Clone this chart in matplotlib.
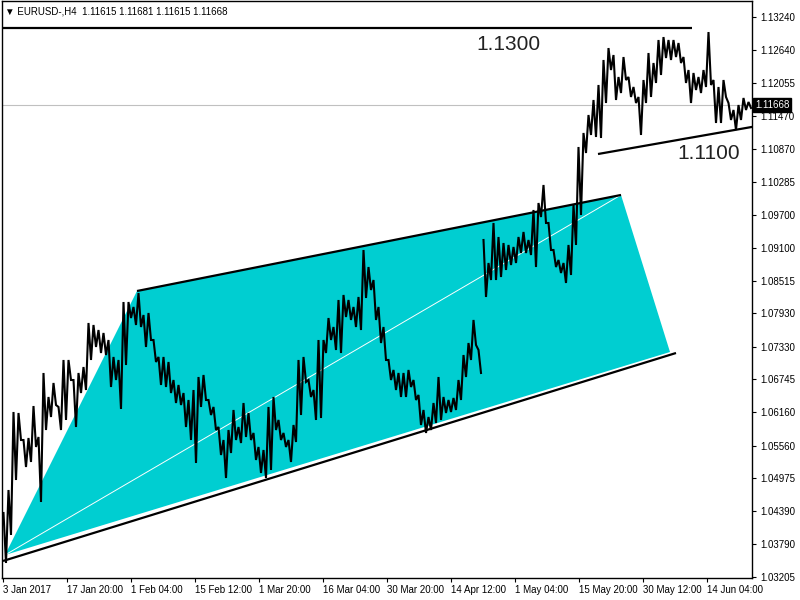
import matplotlib
matplotlib.use("Agg")
import matplotlib.pyplot as plt
import matplotlib.transforms as mtransforms
import numpy as np

# EURUSD H4 in blocks of 5 bars (high / low per block)
BARS_PER_BLOCK = 5
highs = [
    1.04352, 1.04764, 1.06162, 1.06144, 1.05660, 1.05696, 1.06269, 1.05714, 1.06861, 1.06431,
    1.06682, 1.06252, 1.07094, 1.07094, 1.06735, 1.06861, 1.06968, 1.07757, 1.07721, 1.07631,
    1.07578, 1.07452, 1.07148, 1.07094, 1.08133, 1.08133, 1.08044, 1.08294, 1.07900, 1.07936,
    1.07452, 1.07148, 1.07148, 1.07058, 1.06735, 1.06646, 1.06502, 1.06377, 1.06556, 1.06789,
    1.06825, 1.06377, 1.06252, 1.05893, 1.05660, 1.05839, 1.06198, 1.05893, 1.06323, 1.06144,
    1.05786, 1.05535, 1.05481, 1.06252, 1.06431, 1.06019, 1.05786, 1.05660, 1.05929, 1.07094,
    1.07148, 1.06735, 1.06556, 1.07452, 1.07452, 1.07846, 1.07685, 1.08169, 1.08259, 1.08169,
    1.08044, 1.08223, 1.09065, 1.08760, 1.08527, 1.08044, 1.07685, 1.07094, 1.06915, 1.06861,
    1.06861, 1.06915, 1.06735, 1.06467, 1.06198, 1.06072, 1.06323, 1.06789, 1.06431, 1.06377,
    1.06413, 1.06735, 1.07183, 1.07398, 1.07811, 1.07273, 1.09244, 1.08832, 1.09549, 1.09298,
    1.09190, 1.09155, 1.09119, 1.09298, 1.09388, 1.09244, 1.09782, 1.09907, 1.10230, 1.09549,
    1.09065, 1.08886, 1.08832, 1.09155, 1.09871, 1.10911, 1.11162, 1.11484, 1.11753, 1.12022,
    1.12470, 1.12684, 1.12559, 1.12165, 1.12523, 1.12165, 1.11986, 1.11807, 1.12111, 1.12595,
    1.12416, 1.12828, 1.12881, 1.12828, 1.12828, 1.12774, 1.12523, 1.12290, 1.12237, 1.12165,
    1.12290, 1.12971, 1.12111, 1.11986, 1.12111, 1.11699, 1.11574, 1.11663, 1.11789, 1.11717,
]
lows = [
    1.03456, 1.03958, 1.04943, 1.05660, 1.05176, 1.05266, 1.05535, 1.04549, 1.05839, 1.06072,
    1.06287, 1.05839, 1.06019, 1.06735, 1.05893, 1.06502, 1.06556, 1.07094, 1.07327, 1.07219,
    1.07183, 1.06610, 1.06735, 1.06216, 1.07004, 1.07846, 1.07721, 1.07685, 1.07327, 1.07452,
    1.07058, 1.06646, 1.06610, 1.06502, 1.06323, 1.06287, 1.05893, 1.05660, 1.05248, 1.06252,
    1.06377, 1.06108, 1.05839, 1.05391, 1.04979, 1.05427, 1.05660, 1.05606, 1.05714, 1.05660,
    1.05302, 1.05069, 1.04979, 1.05123, 1.05839, 1.05660, 1.05535, 1.05266, 1.05624, 1.06108,
    1.06700, 1.06431, 1.06019, 1.06054, 1.07219, 1.07452, 1.07273, 1.07219, 1.07864, 1.07811,
    1.07685, 1.07631, 1.08205, 1.08348, 1.07811, 1.07398, 1.07094, 1.06735, 1.06556, 1.06431,
    1.06431, 1.06610, 1.06377, 1.05929, 1.05786, 1.05839, 1.05965, 1.06019, 1.06144, 1.06162,
    1.06198, 1.06377, 1.06789, 1.07094, 1.07363, 1.06861, 1.08223, 1.08527, 1.08527, 1.08581,
    1.08707, 1.08796, 1.08832, 1.09011, 1.09011, 1.08975, 1.08760, 1.09656, 1.09549, 1.09065,
    1.08760, 1.08653, 1.08474, 1.08617, 1.09155, 1.09692, 1.10803, 1.11126, 1.11090, 1.11072,
    1.11699, 1.12290, 1.11753, 1.11878, 1.12111, 1.11807, 1.11699, 1.11126, 1.11699, 1.11807,
    1.12058, 1.12201, 1.12505, 1.12470, 1.12523, 1.12416, 1.12058, 1.11699, 1.11932, 1.11878,
    1.11986, 1.12022, 1.11341, 1.11341, 1.11807, 1.11395, 1.11215, 1.11395, 1.11574, 1.11610,
]

header = "\u25bc EURUSD-,H4  1.11615 1.11681 1.11615 1.11668"
bid = 1.11668

ytick_values = [1.13240, 1.12640, 1.12055, 1.11470, 1.10870, 1.10285, 1.09700, 1.09100, 1.08515,
                1.07930, 1.07330, 1.06745, 1.06160, 1.05560, 1.04975, 1.04390, 1.03790, 1.03205]
xtick_labels = ["3 Jan 2017", "17 Jan 20:00", "1 Feb 04:00", "15 Feb 12:00", "1 Mar 20:00",
                "16 Mar 04:00", "30 Mar 20:00", "14 Apr 12:00", "1 May 04:00", "15 May 20:00",
                "30 May 12:00", "14 Jun 04:00"]
XTICK_STEP = 64  # bars between date labels

# chart objects, anchored as (bar index, price)
channel_fill = [(2, 1.03599), (134, 1.08330), (618, 1.10051), (667, 1.07237)]
upper_line = [(134, 1.08330), (618, 1.10051)]
lower_line = [(0, 1.03492), (673, 1.07219)]
median_line = [(2, 1.03599), (618, 1.10051)]
level_high = [(0, 1.13040), (689, 1.13040)]
support_line = [(595, 1.10785), (760, 1.11305)]
labels = [(473, 1.1264, "1.1300"), (674, 1.1069, "1.1100")]

FONT = ["Liberation Sans", "DejaVu Sans"]
plt.rcParams["font.family"] = FONT

fig = plt.figure(figsize=(8, 6), dpi=100)
ax = fig.add_axes([2 / 800, 22 / 600, 750 / 800, 577 / 600])
ax.set_xlim(-1, 749)
ax.set_ylim(1.03187, 1.13527)

# objects
poly = np.array(channel_fill)
ax.fill(poly[:, 0], poly[:, 1], color="#00CED1", lw=0, zorder=1)
ax.plot(*zip(*median_line), color="white", lw=0.7, zorder=2)
ax.axhline(bid, color="#c0c0c0", lw=0.8, zorder=2)

# price: zigzag through high/low of each block, broken at the weekend gap
h = np.array(highs)
l = np.array(lows)
start = np.arange(len(h)) * BARS_PER_BLOCK
gaps = np.where((l[1:] > h[:-1] + 0.005) | (h[1:] < l[:-1] - 0.005))[0] + 1
for seg in np.split(np.arange(len(h)), gaps):
    xs = np.column_stack([start[seg] + 0.5, start[seg] + 3]).ravel()
    ys = np.column_stack([h[seg], l[seg]]).ravel()
    ax.plot(xs, ys, color="black", lw=1.5, zorder=4, solid_joinstyle="miter")

for line in (upper_line, lower_line, level_high, support_line):
    ax.plot(*zip(*line), color="black", lw=1.6, zorder=5, solid_capstyle="butt")

for x, y, s in labels:
    ax.text(x, y, s, fontsize=15, color="#222222", ha="left", va="baseline", zorder=6)

# axes like the terminal
ax.yaxis.tick_right()
ax.set_yticks(ytick_values)
ax.set_yticklabels([f"{v:.5f}" for v in ytick_values])
ax.set_xticks(np.arange(len(xtick_labels)) * XTICK_STEP)
ax.set_xticklabels(xtick_labels, ha="left")
ax.tick_params(axis="both", labelsize=7, length=3, width=0.8, direction="out", colors="black")
ax.tick_params(axis="y", pad=3)
ax.tick_params(axis="x", pad=2)
for s in ax.spines.values():
    s.set_linewidth(1.0)
    s.set_color("black")

tr = mtransforms.blended_transform_factory(ax.transAxes, ax.transData)
ax.text(1.004, bid, f"{bid:.5f}", transform=tr, fontsize=7, color="white", ha="left",
        va="center", bbox=dict(boxstyle="square,pad=0.2", fc="black", ec="black"), zorder=7)

fig.text(5 / 800, 1 - 11 / 600, header, fontsize=7, color="black", ha="left", va="center")

fig.savefig("out.png", dpi=100, facecolor="white")
